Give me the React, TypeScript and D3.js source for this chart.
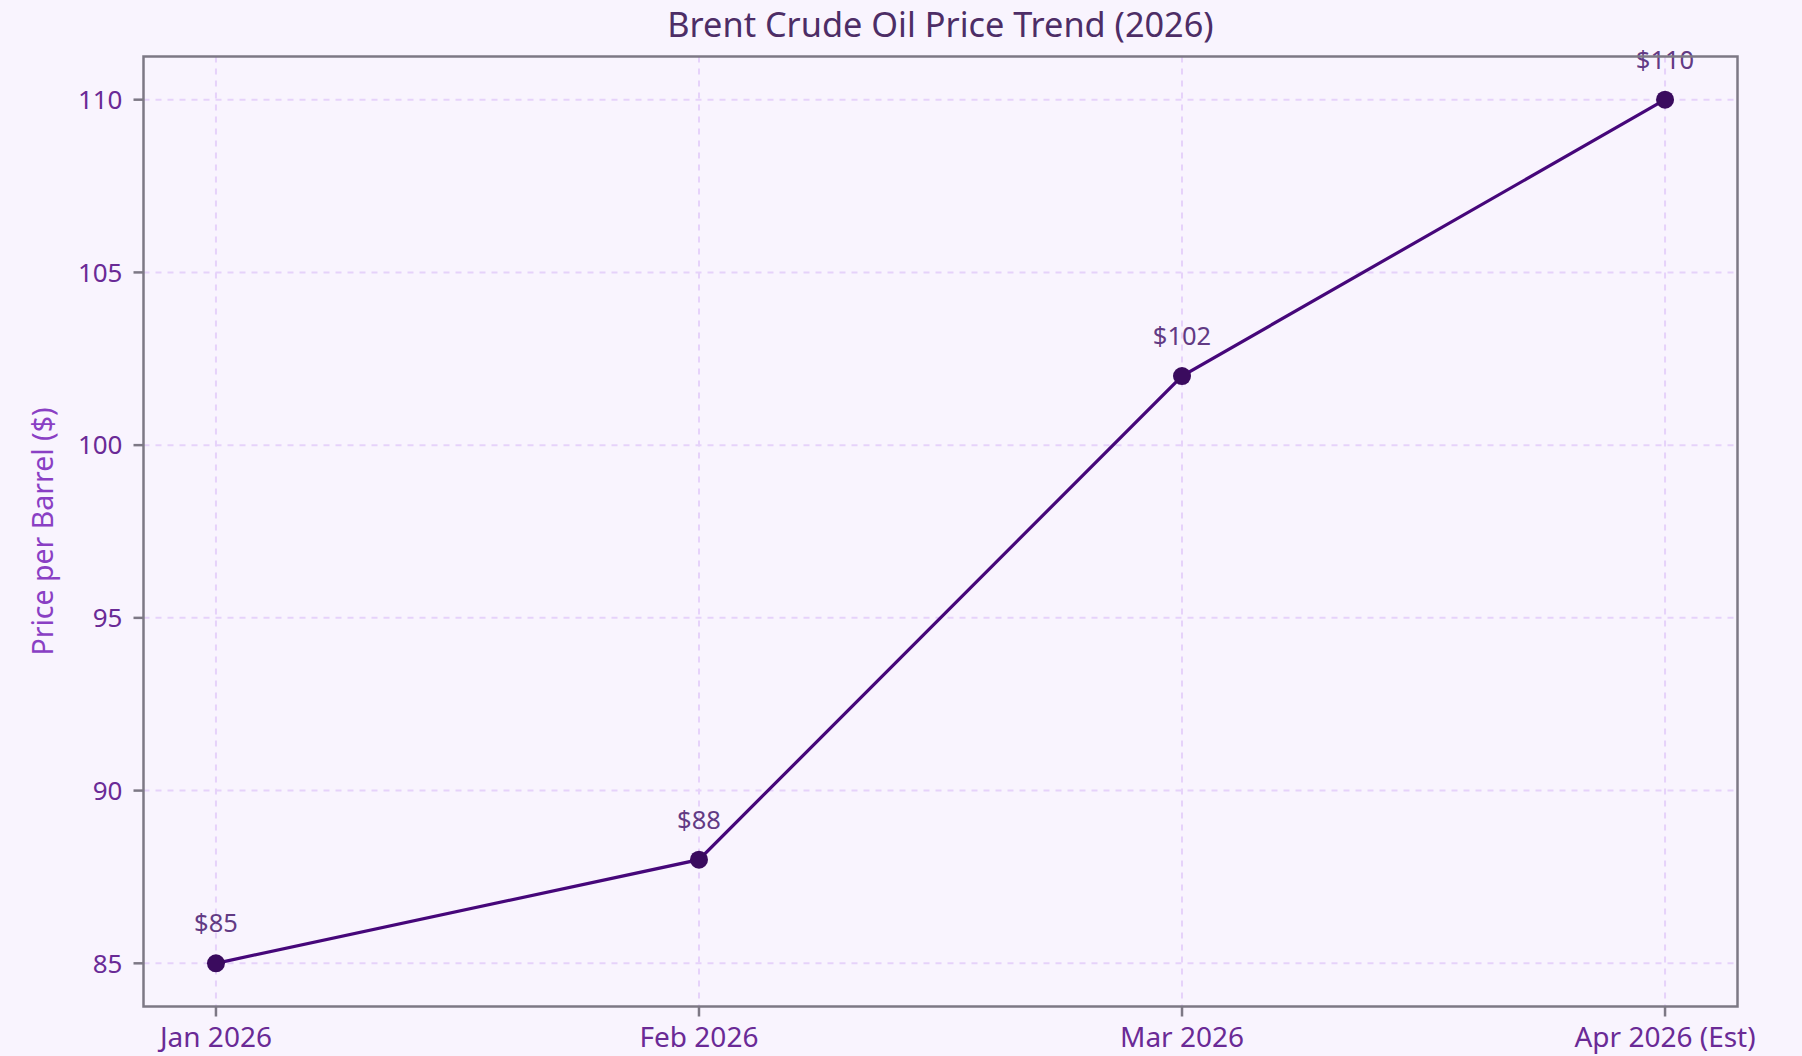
import React from "react";
import * as d3 from "d3";

const months = ["Jan 2026", "Feb 2026", "Mar 2026", "Apr 2026 (Est)"];
const prices = [85, 88, 102, 110];
const yTicks = [85, 90, 95, 100, 105, 110];
const priceLabels = ["$85", "$88", "$102", "$110"];

const W = 1802;
const H = 1056;
const M = { left: 143.5, right: 1737.5, top: 56.5, bottom: 1006.5 };
const FONT = "'Noto Sans', 'Open Sans', sans-serif";

export default function App() {
  const x = d3.scaleLinear().domain([-0.15, 3.15]).range([M.left, M.right]);
  const y = d3.scaleLinear().domain([83.75, 111.25]).range([M.bottom, M.top]);
  const line = d3
    .line<number>()
    .x((_, i) => x(i))
    .y((d) => y(d));

  const bg = "#f9f4fe";
  const spine = "#7d7885";
  const grid = "#e6d2fa";

  return (
    <svg
      width={W}
      height={H}
      style={{ position: "absolute", left: 0, top: 0, display: "block" }}
      fontFamily={FONT}
    >
      <rect x={0} y={0} width={W} height={H} fill={bg} />
      <rect x={M.left} y={M.top} width={M.right - M.left} height={M.bottom - M.top} fill={bg} />
      {/* grid */}
      {yTicks.map((t) => (
        <line
          key={"gy" + t}
          x1={M.left}
          x2={M.right}
          y1={y(t)}
          y2={y(t)}
          stroke={grid}
          strokeWidth={2}
          strokeDasharray="6,6"
        />
      ))}
      {months.map((m, i) => (
        <line
          key={"gx" + m}
          x1={x(i)}
          x2={x(i)}
          y1={M.top}
          y2={M.bottom}
          stroke={grid}
          strokeWidth={2}
          strokeDasharray="6,6"
        />
      ))}
      {/* line */}
      <path d={line(prices) || ""} fill="none" stroke="#46077a" strokeWidth={3.2} />
      {prices.map((p, i) => (
        <circle key={"c" + i} cx={x(i)} cy={y(p)} r={9} fill="#3a0b5e" />
      ))}
      {/* annotations */}
      {prices.map((p, i) => (
        <text
          key={"a" + i}
          x={x(i)}
          y={y(p) - 31}
          textAnchor="middle"
          fontSize={25.5}
          fill="#623a84"
        >
          {priceLabels[i]}
        </text>
      ))}
      {/* spines */}
      <rect
        x={M.left}
        y={M.top}
        width={M.right - M.left}
        height={M.bottom - M.top}
        fill="none"
        stroke={spine}
        strokeWidth={2.5}
      />
      {/* y ticks */}
      {yTicks.map((t) => (
        <g key={"yt" + t}>
          <line x1={M.left - 10} x2={M.left} y1={y(t)} y2={y(t)} stroke={spine} strokeWidth={2.5} />
          <text
            x={M.left - 21}
            y={y(t)}
            dy="0.36em"
            textAnchor="end"
            fontSize={26}
            fill="#6a2a96"
          >
            {t}
          </text>
        </g>
      ))}
      {/* x ticks */}
      {months.map((m, i) => (
        <g key={"xt" + m}>
          <line x1={x(i)} x2={x(i)} y1={M.bottom} y2={M.bottom + 10} stroke={spine} strokeWidth={2.5} />
          <text x={x(i)} y={1047} textAnchor="middle" fontSize={28} fill="#6a2a96">
            {m}
          </text>
        </g>
      ))}
      {/* y label */}
      <text
        transform={`translate(53, ${(M.top + M.bottom) / 2}) rotate(-90)`}
        textAnchor="middle"
        fontSize={28.5}
        fill="#8a3fc4"
      >
        Price per Barrel ($)
      </text>
      {/* title */}
      <text x={(M.left + M.right) / 2} y={37} textAnchor="middle" fontSize={34.3} fill="#4d2d66">
        Brent Crude Oil Price Trend (2026)
      </text>
    </svg>
  );
}
